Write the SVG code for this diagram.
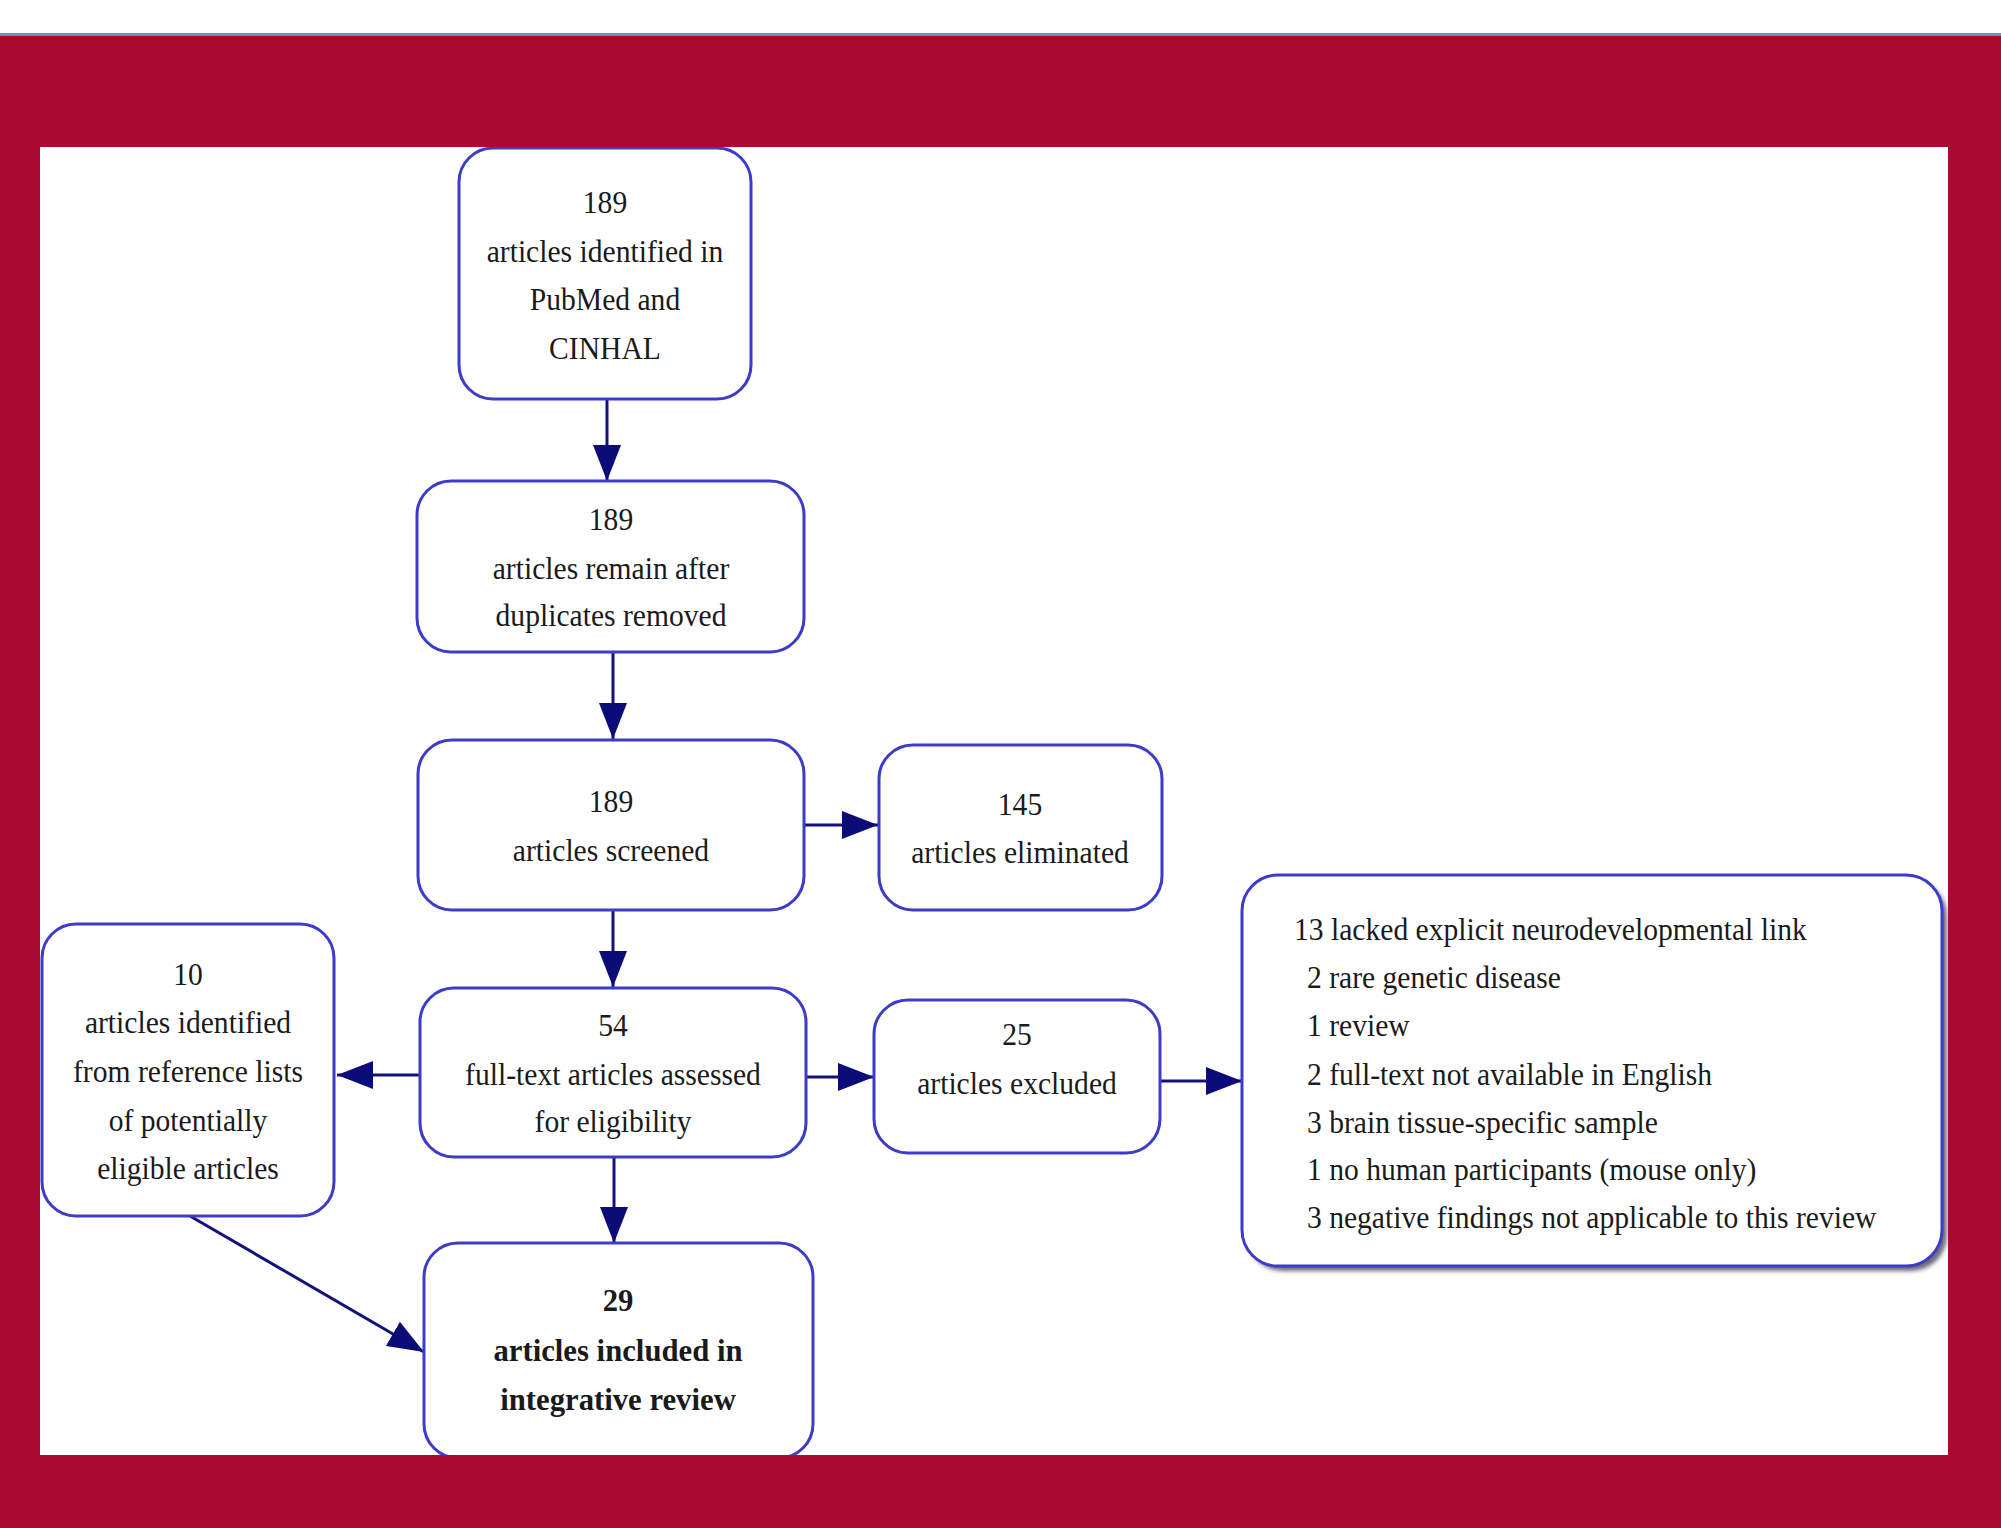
<svg xmlns="http://www.w3.org/2000/svg" width="2001" height="1528" viewBox="0 0 2001 1528">
<style>
.node{fill:#ffffff;stroke:#3c3cc8;stroke-width:3}
.t{font-family:"Liberation Serif","Times New Roman",serif;font-size:32px;fill:#1a1a1a;text-anchor:middle}
.tl{font-family:"Liberation Serif","Times New Roman",serif;font-size:32px;fill:#1a1a1a;text-anchor:start}
.b{font-weight:bold}
.edge{stroke:#12127a;stroke-width:3;fill:none;marker-end:url(#ah)}
</style>
<defs>
<marker id="ah" markerUnits="userSpaceOnUse" markerWidth="36" markerHeight="28" refX="36" refY="14" orient="auto">
<path d="M0,0 L36,14 L0,28 z" fill="#0c0c78"/>
</marker>
<filter id="sh" x="-5%" y="-5%" width="115%" height="115%">
<feGaussianBlur stdDeviation="2"/>
</filter>
</defs>
<rect x="0" y="0" width="2001" height="1528" fill="#ffffff"/>

<g id="connectors">
<line class="edge" x1="607" y1="399" x2="607" y2="481"/>
<line class="edge" x1="613" y1="652" x2="613" y2="739"/>
<line class="edge" x1="804" y1="825" x2="878" y2="825"/>
<line class="edge" x1="613" y1="909" x2="613" y2="987"/>
<line class="edge" x1="420" y1="1075" x2="337" y2="1075"/>
<line class="edge" x1="807" y1="1077" x2="874" y2="1077"/>
<line class="edge" x1="1160" y1="1081" x2="1242" y2="1081"/>
<line class="edge" x1="614" y1="1157" x2="614" y2="1243"/>
<line class="edge" x1="190" y1="1216" x2="424" y2="1352"/>
</g>

<g id="n1">
<rect class="node" x="459" y="148" width="292" height="251" rx="34"/>
<g transform="translate(605,0) scale(0.925,1)">
<text class="t" x="0" y="213">189</text>
<text class="t" x="0" y="262">articles identified in</text>
<text class="t" x="0" y="310">PubMed and</text>
<text class="t" x="0" y="359">CINHAL</text>
</g>
</g>

<g id="n2">
<rect class="node" x="417" y="481" width="387" height="171" rx="34"/>
<g transform="translate(611,0) scale(0.925,1)">
<text class="t" x="0" y="530">189</text>
<text class="t" x="0" y="579">articles remain after</text>
<text class="t" x="0" y="626">duplicates removed</text>
</g>
</g>

<g id="n3">
<rect class="node" x="418" y="740" width="386" height="170" rx="34"/>
<g transform="translate(611,0) scale(0.925,1)">
<text class="t" x="0" y="812">189</text>
<text class="t" x="0" y="861">articles screened</text>
</g>
</g>

<g id="n4">
<rect class="node" x="879" y="745" width="283" height="165" rx="34"/>
<g transform="translate(1020,0) scale(0.925,1)">
<text class="t" x="0" y="815">145</text>
<text class="t" x="0" y="863">articles eliminated</text>
</g>
</g>

<g id="n5">
<rect class="node" x="420" y="988" width="386" height="169" rx="34"/>
<g transform="translate(613,0) scale(0.925,1)">
<text class="t" x="0" y="1036">54</text>
<text class="t" x="0" y="1085">full-text articles assessed</text>
<text class="t" x="0" y="1132">for eligibility</text>
</g>
</g>

<g id="n6">
<rect class="node" x="42" y="924" width="292" height="292" rx="34"/>
<g transform="translate(188,0) scale(0.925,1)">
<text class="t" x="0" y="985">10</text>
<text class="t" x="0" y="1033">articles identified</text>
<text class="t" x="0" y="1082">from reference lists</text>
<text class="t" x="0" y="1131">of potentially</text>
<text class="t" x="0" y="1179">eligible articles</text>
</g>
</g>

<g id="n7">
<rect class="node" x="874" y="1000" width="286" height="153" rx="34"/>
<g transform="translate(1017,0) scale(0.925,1)">
<text class="t" x="0" y="1045">25</text>
<text class="t" x="0" y="1094">articles excluded</text>
</g>
</g>

<g id="n8">
<rect x="1247" y="880" width="700" height="391" rx="36" fill="#6a6a7a" filter="url(#sh)"/>
<rect class="node" x="1242" y="875" width="700" height="391" rx="36"/>
<g transform="translate(1294,0) scale(0.925,1)">
<text class="tl" x="0" y="940">13 lacked explicit neurodevelopmental link</text>
<text class="tl" x="14" y="988">2 rare genetic disease</text>
<text class="tl" x="14" y="1036">1 review</text>
<text class="tl" x="14" y="1085">2 full-text not available in English</text>
<text class="tl" x="14" y="1133">3 brain tissue-specific sample</text>
<text class="tl" x="14" y="1180">1 no human participants (mouse only)</text>
<text class="tl" x="14" y="1228">3 negative findings not applicable to this review</text>
</g>
</g>

<g id="n9">
<rect class="node" x="424" y="1243" width="389" height="215" rx="34"/>
<g transform="translate(618,0) scale(0.96,1)">
<text class="t b" x="0" y="1311">29</text>
<text class="t b" x="0" y="1361">articles included in</text>
<text class="t b" x="0" y="1410">integrative review</text>
</g>
</g>

<path d="M0,36 H2001 V1528 H0 Z M40,147 V1455 H1948 V147 Z" fill="#a80a32" fill-rule="evenodd"/>
<rect x="0" y="33" width="2001" height="3" fill="#6a8fc4"/>
</svg>
